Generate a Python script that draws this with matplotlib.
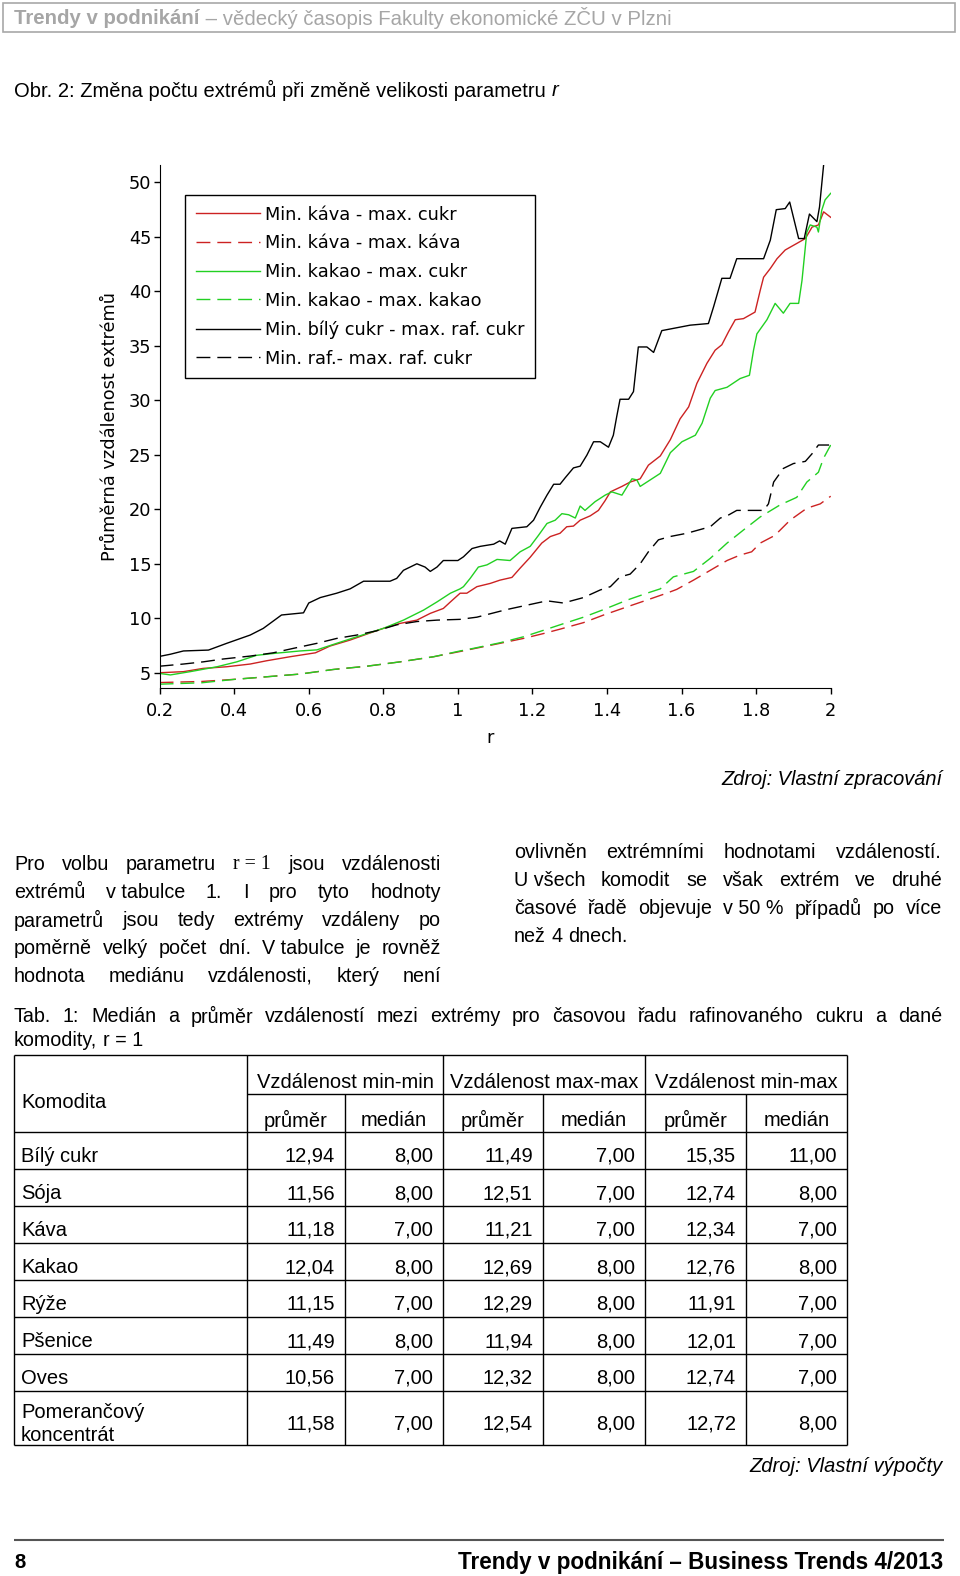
import matplotlib
matplotlib.use("Agg")
import matplotlib.pyplot as plt
from matplotlib.patches import Rectangle
from matplotlib.ticker import FuncFormatter

W, H = 960, 1576
PAGE_FONT = "Liberation Sans"
CHART_FONT = "DejaVu Sans"

# ---- chart data (r vs. mean distance of extremes) ----
x_bily = [0.2, 0.229, 0.264, 0.331, 0.38, 0.443, 0.478, 0.527, 0.586, 0.6, 0.631, 0.675, 0.711,
          0.747, 0.818, 0.836, 0.854, 0.89, 0.912, 0.926, 0.944, 0.961, 0.97, 1.0, 1.015, 1.038,
          1.06, 1.096, 1.112, 1.127, 1.145, 1.185, 1.203, 1.221, 1.239, 1.257, 1.274, 1.288, 1.31,
          1.328, 1.346, 1.364, 1.382, 1.404, 1.417, 1.426, 1.435, 1.458, 1.471, 1.484, 1.507,
          1.525, 1.547, 1.623, 1.672, 1.686, 1.708, 1.73, 1.748, 1.82, 1.838, 1.854, 1.878, 1.89,
          1.914, 1.929, 1.943, 1.963, 1.97, 1.981, 1.99]
y_bily = [6.5, 6.7, 7.0, 7.08, 7.7, 8.46, 9.07, 10.3, 10.5, 11.4, 11.9, 12.3, 12.7, 13.4, 13.4,
          13.66, 14.4, 15.0, 14.7, 14.3, 14.7, 15.3, 15.3, 15.3, 15.64, 16.4, 16.6, 16.8, 17.1,
          16.8, 18.25, 18.4, 19.0, 20.2, 21.3, 22.3, 22.3, 22.9, 23.8, 23.96, 24.97, 26.2, 26.2,
          25.7, 26.8, 28.5, 30.1, 30.1, 30.8, 34.9, 34.9, 34.4, 36.4, 36.9, 37.05, 38.6, 41.2,
          41.2, 43.0, 43.0, 44.7, 47.5, 47.6, 48.2, 44.85, 44.85, 47.1, 46.4, 47.75, 51.6, 54.0]

x_kava_cukr = [0.2, 0.264, 0.317, 0.38, 0.443, 0.487, 0.55, 0.618, 0.657, 0.711, 0.756, 0.8,
               0.845, 0.89, 0.926, 0.961, 0.98, 1.006, 1.024, 1.051, 1.087, 1.113, 1.145, 1.167,
               1.194, 1.225, 1.248, 1.274, 1.292, 1.31, 1.328, 1.355, 1.377, 1.395, 1.409, 1.44,
               1.462, 1.489, 1.511, 1.543, 1.57, 1.596, 1.619, 1.641, 1.668, 1.69, 1.708, 1.726,
               1.744, 1.766, 1.797, 1.811, 1.82, 1.838, 1.856, 1.878, 1.909, 1.932, 1.95, 1.967,
               1.981, 2.0]
y_kava_cukr = [5.0, 5.1, 5.4, 5.55, 5.8, 6.1, 6.47, 6.83, 7.45, 8.0, 8.55, 9.07, 9.53, 9.83,
               10.45, 10.9, 11.5, 12.3, 12.3, 12.9, 13.2, 13.5, 13.75, 14.6, 15.6, 16.9, 17.5,
               17.8, 18.4, 18.46, 19.0, 19.4, 19.9, 20.8, 21.6, 22.1, 22.5, 22.8, 24.05, 24.9,
               26.4, 28.3, 29.4, 31.55, 33.4, 34.6, 35.1, 36.3, 37.4, 37.5, 38.1, 40.1, 41.3,
               42.1, 43.0, 43.8, 44.4, 44.85, 45.9, 46.1, 47.3, 46.8]

x_kakao_cukr = [0.2, 0.229, 0.282, 0.354, 0.407, 0.46, 0.514, 0.577, 0.622, 0.675, 0.729, 0.8,
                0.854, 0.908, 0.944, 0.98, 1.006, 1.015, 1.033, 1.055, 1.078, 1.105, 1.14, 1.167,
                1.194, 1.216, 1.239, 1.261, 1.279, 1.297, 1.315, 1.328, 1.341, 1.368, 1.395,
                1.413, 1.44, 1.467, 1.48, 1.489, 1.516, 1.543, 1.57, 1.601, 1.637, 1.655, 1.677,
                1.69, 1.722, 1.757, 1.782, 1.793, 1.802, 1.829, 1.851, 1.873, 1.891, 1.914, 1.923,
                1.936, 1.945, 1.963, 1.967, 1.976, 1.985, 2.0]
y_kakao_cukr = [4.94, 4.8, 5.1, 5.55, 6.0, 6.6, 6.8, 7.0, 7.1, 7.7, 8.3, 9.07, 9.83, 10.75, 11.5,
                12.3, 12.7, 12.9, 13.66, 14.7, 14.9, 15.4, 15.3, 16.1, 16.6, 17.6, 18.7, 19.0,
                19.6, 19.5, 19.2, 20.3, 19.9, 20.7, 21.3, 21.6, 21.3, 22.8, 22.7, 22.1, 22.7,
                23.3, 25.2, 26.2, 26.8, 27.9, 30.2, 30.9, 31.2, 32.0, 32.3, 34.6, 36.1, 37.4,
                38.9, 38.0, 38.9, 38.9, 41.0, 45.45, 46.1, 45.9, 45.45, 47.45, 48.4, 49.0]

x_raf = [0.2, 0.264, 0.317, 0.37, 0.443, 0.505, 0.559, 0.622, 0.675, 0.729, 0.782, 0.836, 0.89,
         0.944, 1.006, 1.051, 1.131, 1.185, 1.239, 1.283, 1.337, 1.382, 1.409, 1.435, 1.462,
         1.489, 1.511, 1.538, 1.569, 1.614, 1.677, 1.704, 1.722, 1.748, 1.82, 1.833, 1.847,
         1.873, 1.9, 1.932, 1.95, 1.967, 2.0]
y_raf = [5.6, 5.8, 6.0, 6.26, 6.53, 6.83, 7.24, 7.7, 8.15, 8.46, 8.85, 9.4, 9.7, 9.83, 9.9, 10.1,
         10.8, 11.2, 11.6, 11.4, 11.9, 12.6, 12.9, 13.8, 14.05, 15.0, 16.1, 17.2, 17.5, 17.8,
         18.4, 19.2, 19.4, 19.9, 19.9, 20.5, 22.5, 23.75, 24.2, 24.4, 25.1, 25.9, 25.9]

x_kakao_kakao = [0.2, 0.313, 0.403, 0.487, 0.577, 0.666, 0.756, 0.845, 0.935, 1.006, 1.042,
                 1.113, 1.176, 1.23, 1.274, 1.337, 1.391, 1.454, 1.507, 1.543, 1.578, 1.632,
                 1.677, 1.722, 1.766, 1.811, 1.864, 1.909, 1.936, 1.967, 1.981, 2.0]
y_kakao_kakao = [3.95, 4.08, 4.4, 4.63, 4.88, 5.3, 5.6, 6.0, 6.47, 7.0, 7.24, 7.75, 8.3, 8.9,
                 9.4, 10.1, 10.8, 11.67, 12.3, 12.7, 13.8, 14.3, 15.5, 16.9, 18.1, 19.3, 20.4,
                 21.1, 22.5, 23.4, 24.7, 25.9]

x_kava_kava = [0.2, 0.313, 0.403, 0.487, 0.577, 0.666, 0.756, 0.845, 0.935, 1.006, 1.113, 1.176,
               1.23, 1.274, 1.337, 1.391, 1.454, 1.507, 1.56, 1.587, 1.632, 1.677, 1.722, 1.757,
               1.788, 1.811, 1.85, 1.891, 1.936, 1.972, 2.0]
y_kava_kava = [4.1, 4.2, 4.4, 4.63, 4.88, 5.3, 5.6, 6.0, 6.47, 6.95, 7.7, 8.15, 8.6, 9.0, 9.6,
               10.3, 11.05, 11.67, 12.3, 12.65, 13.5, 14.4, 15.3, 15.8, 16.1, 16.9, 17.6, 19.0,
               20.1, 20.5, 21.2]

x_ticks = [0.2, 0.4, 0.6, 0.8, 1.0, 1.2, 1.4, 1.6, 1.8, 2.0]
y_ticks = [5, 10, 15, 20, 25, 30, 35, 40, 45, 50]

# ---- table data ----
komodity = ["Bílý cukr", "Sója", "Káva", "Kakao", "Rýže", "Pšenice", "Oves",
            "Pomerančový\nkoncentrát"]
minmin_prumer = ["12,94", "11,56", "11,18", "12,04", "11,15", "11,49", "10,56", "11,58"]
minmin_median = ["8,00", "8,00", "7,00", "8,00", "7,00", "8,00", "7,00", "7,00"]
maxmax_prumer = ["11,49", "12,51", "11,21", "12,69", "12,29", "11,94", "12,32", "12,54"]
maxmax_median = ["7,00", "7,00", "7,00", "8,00", "8,00", "8,00", "8,00", "8,00"]
minmax_prumer = ["15,35", "12,74", "12,34", "12,76", "11,91", "12,01", "12,74", "12,72"]
minmax_median = ["11,00", "8,00", "7,00", "8,00", "7,00", "7,00", "7,00", "8,00"]

fig = plt.figure(figsize=(W / 100, H / 100), dpi=100)
page = fig.add_axes([0, 0, 1, 1])
page.set_xlim(0, W)
page.set_ylim(H, 0)
page.axis("off")
renderer = fig.canvas.get_renderer()

DY = 7  # text sits a bit low in the page scan


def width_of(t):
    return t.get_window_extent(renderer).width


def fit_line(parts, x, y, target, ha="left", size=14):
    # parts: list of (text, kwargs); scaled so the whole line is `target` px wide
    arts = [page.text(0, y, s, va="center", fontsize=size, family=PAGE_FONT, **kw)
            for s, kw in parts]
    total = sum(width_of(a) for a in arts)
    k = target / total
    for a in arts:
        a.set_fontsize(size * k)
    widths = [width_of(a) for a in arts]
    pos = x if ha == "left" else x - sum(widths)
    for a, w in zip(arts, widths):
        a.set_x(pos)
        pos += w
    return arts


def justify(tokens, x0, x1, y, size, last=False, dy=DY):
    arts = []
    for tok in tokens:
        if isinstance(tok, tuple):
            s, kw = tok
        else:
            s, kw = tok, {}
        kw = dict(kw)
        fam = kw.pop("family", PAGE_FONT)
        arts.append(page.text(0, y + dy, s, va="center", fontsize=size, family=fam, **kw))
    widths = [width_of(a) for a in arts]
    if last or len(arts) == 1:
        gap = 0.278 * size * 100 / 72
    else:
        gap = (x1 - x0 - sum(widths)) / (len(arts) - 1)
    pos = x0
    for a, w in zip(arts, widths):
        a.set_x(pos)
        pos += w + gap


# ---- page header ----
page.add_patch(Rectangle((3, 3), 952, 29, fill=False, edgecolor="#a8a8a8", lw=1.2))
fit_line([("Trendy v podnikání", dict(color="#a6a6a6", weight="bold")),
          (" – vědecký časopis Fakulty ekonomické ZČU v Plzni", dict(color="#a6a6a6"))],
         14, 18, 660)

fit_line([("Obr. 2: Změna počtu extrémů při změně velikosti parametru ", {}),
          ("r", dict(style="italic"))], 14, 90, 544)

fit_line([("Zdroj: Vlastní zpracování", dict(style="italic"))], 942, 773 + 6, 222, ha="right")

# ---- paragraphs ----
PS = 14.2
serif_r = ("r = 1", dict(family="Liberation Serif"))
left_lines = [
    ["Pro", "volbu", "parametru", serif_r, "jsou", "vzdálenosti"],
    ["extrémů", "v tabulce", "1.", "I", "pro", "tyto", "hodnoty"],
    ["parametrů", "jsou", "tedy", "extrémy", "vzdáleny", "po"],
    ["poměrně", "velký", "počet", "dní.", "V tabulce", "je", "rovněž"],
    ["hodnota", "mediánu", "vzdálenosti,", "který", "není"],
]
for i, ln in enumerate(left_lines):
    justify(ln, 14, 441, 857 + 28 * i, PS)

right_lines = [
    ["ovlivněn", "extrémními", "hodnotami", "vzdáleností."],
    ["U všech", "komodit", "se", "však", "extrém", "ve", "druhé"],
    ["časové", "řadě", "objevuje", "v 50 %", "případů", "po", "více"],
    ["než", "4", "dnech."],
]
for i, ln in enumerate(right_lines):
    justify(ln, 514, 942, 845 + 28 * i, PS, last=(i == len(right_lines) - 1))

justify("Tab. 1: Medián a průměr vzdáleností mezi extrémy pro časovou řadu rafinovaného "
        "cukru a dané".split(), 14, 942, 1011, PS, dy=5)
justify(["komodity,", "r = 1"], 14, 942, 1039, PS, last=True, dy=2)

# ---- table ----
TS = 14.5
col_x = [14, 247, 345, 443, 543, 645, 746, 847]
row_y = [1132, 1169, 1206, 1243, 1280, 1317, 1354, 1391, 1445]
lw = 1.0
page.hlines([1055, 1132] + row_y[1:], 14, 847, color="black", lw=lw)
page.hlines(1094, 247, 847, color="black", lw=lw)
page.vlines([14, 247, 443, 645, 847], 1055, 1445, color="black", lw=lw)
page.vlines([345, 543, 746], 1094, 1445, color="black", lw=lw)

page.text(21, 1096 + DY, "Komodita", va="center", fontsize=TS, family=PAGE_FONT)
groups = ["Vzdálenost min-min", "Vzdálenost max-max", "Vzdálenost min-max"]
for g, (a, b) in zip(groups, [(247, 443), (443, 645), (645, 847)]):
    page.text((a + b) / 2, 1077 + DY - 1, g, ha="center", va="center", fontsize=TS,
              family=PAGE_FONT)
for j in range(6):
    sub = "průměr" if j % 2 == 0 else "medián"
    page.text((col_x[j + 1] + col_x[j + 2]) / 2, 1114 + DY - 1, sub, ha="center",
              va="center", fontsize=TS, family=PAGE_FONT)

cols = [minmin_prumer, minmin_median, maxmax_prumer, maxmax_median, minmax_prumer, minmax_median]
for i, name in enumerate(komodity):
    yc = (row_y[i] + row_y[i + 1]) / 2 + DY - 1
    page.text(21, yc, name, va="center", fontsize=TS, family=PAGE_FONT, linespacing=1.25)
    for j, col in enumerate(cols):
        page.text(col_x[j + 2] - 10, yc, col[i], ha="right", va="center", fontsize=TS,
                  family=PAGE_FONT)

fit_line([("Zdroj: Vlastní výpočty", dict(style="italic"))], 943, 1460 + 7, 193, ha="right")

# ---- footer ----
page.hlines(1540, 14, 944, color="#555555", lw=1.5)
page.text(14, 1555 + 8, "8", va="center", fontsize=14.5, family=PAGE_FONT, weight="bold")
fit_line([("Trendy v podnikání – Business Trends 4/2013", dict(weight="bold"))],
         943, 1555 + 8, 487, ha="right")

# ---- chart ----
ax = fig.add_axes([159.6 / W, 1 - 688 / H, (830.7 - 159.6) / W, (688 - 165) / H])
red = "#cc2222"
green = "#22d022"
dash = (10, 5)
ax.plot(x_kava_cukr, y_kava_cukr, color=red, lw=1.0, label="Min. káva - max. cukr")
ax.plot(x_kava_kava, y_kava_kava, color=red, lw=1.0, dashes=dash, label="Min. káva - max. káva")
ax.plot(x_kakao_cukr, y_kakao_cukr, color=green, lw=1.0, label="Min. kakao - max. cukr")
ax.plot(x_kakao_kakao, y_kakao_kakao, color=green, lw=1.0, dashes=dash,
        label="Min. kakao - max. kakao")
ax.plot(x_bily, y_bily, color="black", lw=1.0, label="Min. bílý cukr - max. raf. cukr")
ax.plot(x_raf, y_raf, color="black", lw=1.0, dashes=dash, label="Min. raf.- max. raf. cukr")

ax.set_xlim(0.2, 2.0)
ax.set_ylim(3.6, 51.6)
ax.set_xticks(x_ticks)
ax.set_yticks(y_ticks)
ax.xaxis.set_major_formatter(FuncFormatter(lambda v, p: f"{v:g}"))
ax.tick_params(direction="out", length=4, width=1, labelsize=12.8, colors="black")
ax.tick_params(axis="x", pad=6)
ax.tick_params(axis="y", pad=2)
for lab in ax.get_xticklabels() + ax.get_yticklabels():
    lab.set_family(CHART_FONT)
ax.spines["top"].set_visible(False)
ax.spines["right"].set_visible(False)
ax.set_ylabel("Průměrná vzdálenost extrémů", fontsize=12.8, family=CHART_FONT)
ax.yaxis.set_label_coords(-0.06, 0.5)
ax.set_xlabel("r", fontsize=12.8, family=CHART_FONT)
ax.xaxis.set_label_coords(0.492, -0.078)

leg = ax.legend(loc="upper left", bbox_to_anchor=(0.0378, 0.9426), borderaxespad=0,
                fancybox=False, edgecolor="black", framealpha=1,
                handlelength=3.6, handletextpad=0.3, labelspacing=0.6, borderpad=0.6,
                prop={"family": CHART_FONT, "size": 12.8})
leg.get_frame().set_linewidth(1.0)

fig.savefig("out.png", dpi=100)
